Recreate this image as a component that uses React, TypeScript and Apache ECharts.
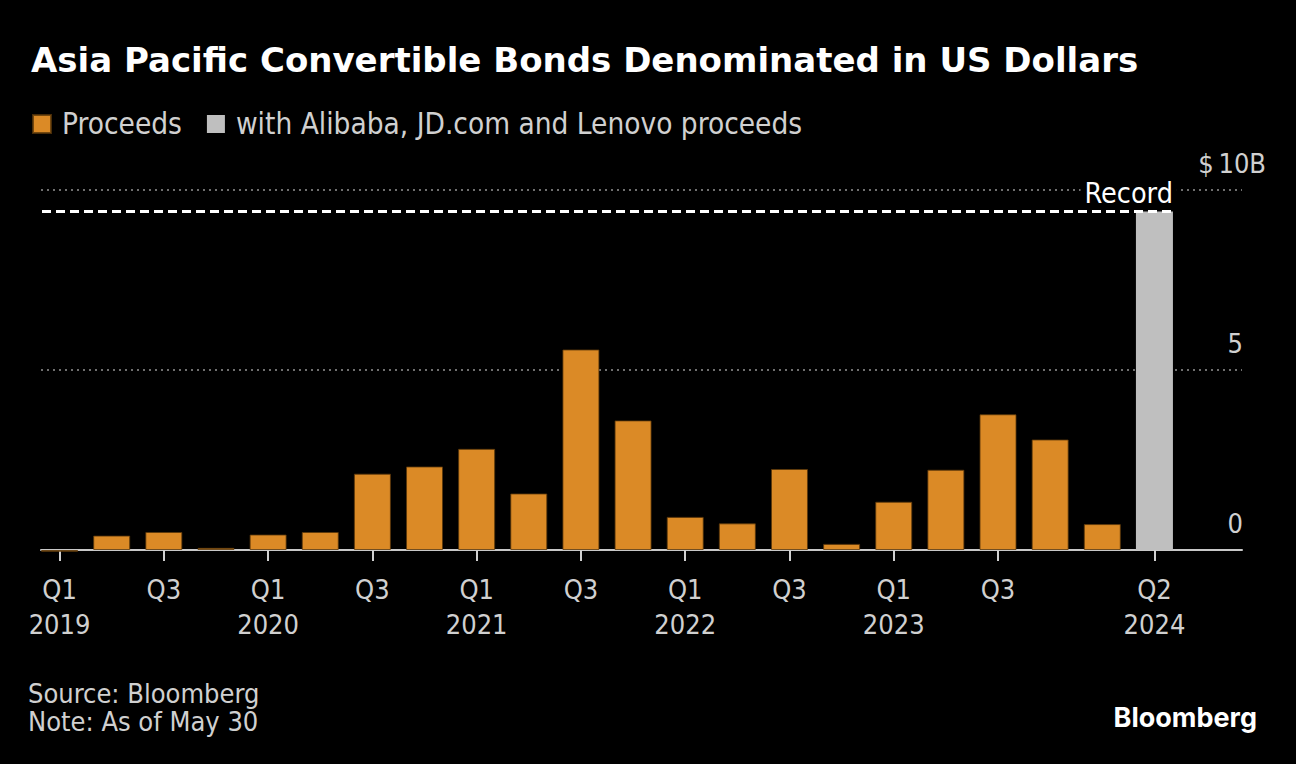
import React, { useEffect, useRef } from "react";
import * as echarts from "echarts";

const quarters = [
  "Q1 2019", "Q2 2019", "Q3 2019", "Q4 2019",
  "Q1 2020", "Q2 2020", "Q3 2020", "Q4 2020",
  "Q1 2021", "Q2 2021", "Q3 2021", "Q4 2021",
  "Q1 2022", "Q2 2022", "Q3 2022", "Q4 2022",
  "Q1 2023", "Q2 2023", "Q3 2023", "Q4 2023",
  "Q1 2024", "Q2 2024",
];
const proceeds: (number | string)[] = [
  -0.05, 0.4, 0.5, 0.06,
  0.43, 0.5, 2.12, 2.32,
  2.81, 1.57, 5.57, 3.6,
  0.92, 0.74, 2.25, 0.17,
  1.34, 2.23, 3.77, 3.07,
  0.72, "-",
];
const withMajors: (number | string)[] = [
  "-", "-", "-", "-", "-", "-", "-", "-", "-", "-", "-",
  "-", "-", "-", "-", "-", "-", "-", "-", "-", "-", 9.4,
];
const recordValue = 9.4;
const labeledIndexes = [0, 2, 4, 6, 8, 10, 12, 14, 16, 18, 21];
const yMin = 0;
const yMax = 10;
const yInterval = 5;

const seriesNames = ["Proceeds", "with Alibaba, JD.com and Lenovo proceeds"];
const TITLE = "Asia Pacific Convertible Bonds Denominated in US Dollars";
const SOURCE = "Source: Bloomberg\nNote: As of May 30";

const COND = "'DejaVu Sans Condensed', 'DejaVu Sans', sans-serif";
const ORANGE = "#db8a26";
const GRAY = "#bfbfbf";
const TEXT = "#d0d0d0";

export default function App() {
  const ref = useRef<HTMLDivElement>(null);
  useEffect(() => {
    if (!ref.current) return;
    const chart = echarts.init(ref.current, undefined, { renderer: "svg" });
    const gridTop = 190;
    const gridBottom = 764 - 550;
    const staticGraphics = [
      {
        type: "text",
        left: 28,
        top: 679,
        style: { text: SOURCE, fill: TEXT, fontSize: 27, lineHeight: 28, fontFamily: COND },
      },
      {
        type: "text",
        right: 1296 - 1257,
        top: 704,
        style: {
          text: "Bloomberg",
          fill: "#fff",
          fontSize: 27,
          fontWeight: "bold",
          fontFamily: "Inter, 'Open Sans', sans-serif",
        },
      },
    ];
    chart.setOption({
      animation: false,
      backgroundColor: "#000",
      title: {
        text: TITLE,
        left: 26,
        top: 38,
        textStyle: {
          color: "#fff",
          fontSize: 34,
          fontWeight: "bold",
          fontFamily: "'DejaVu Sans', sans-serif",
        },
      },
      legend: {
        data: seriesNames,
        left: 27,
        top: 104,
        icon: "rect",
        itemWidth: 18,
        itemHeight: 18,
        itemGap: 25,
        textStyle: { color: TEXT, fontSize: 29.5, fontFamily: COND, padding: [0, 0, 0, 6] },
      },
      grid: [
        { left: 33.5, right: 1296 - 1180.5, top: gridTop, bottom: gridBottom },
        { left: 41, right: 1296 - 1242, top: gridTop, bottom: gridBottom },
      ],
      xAxis: [
        {
          type: "category",
          gridIndex: 0,
          data: quarters,
          axisLine: { show: false },
          axisTick: {
            show: true,
            alignWithLabel: true,
            interval: (i: number) => labeledIndexes.includes(i),
            length: 11,
            lineStyle: { color: TEXT, width: 2 },
          },
          axisLabel: {
            interval: (i: number) => labeledIndexes.includes(i),
            color: TEXT,
            fontSize: 27,
            fontFamily: COND,
            lineHeight: 35,
            margin: 22,
            formatter: (v: string, i: number) => {
              const [q, y] = v.split(" ");
              return q === "Q1" || i === quarters.length - 1 ? `${q}\n${y}` : q;
            },
          },
        },
        {
          type: "value",
          gridIndex: 1,
          min: 0,
          max: 1,
          axisLine: { show: true, lineStyle: { color: "#c8c8c8", width: 2 } },
          axisTick: { show: false },
          axisLabel: { show: false },
          splitLine: { show: false },
        },
      ],
      yAxis: [
        {
          type: "value",
          gridIndex: 0,
          min: yMin,
          max: yMax,
          interval: yInterval,
          show: false,
        },
        {
          type: "value",
          gridIndex: 1,
          position: "right",
          min: yMin,
          max: yMax,
          interval: yInterval,
          axisLine: { show: false },
          axisTick: { show: false },
          splitLine: {
            show: true,
            lineStyle: { color: "#707070", width: 2, type: [2, 4] },
          },
          axisLabel: {
            inside: false,
            margin: 24,
            align: "right",
            verticalAlign: "bottom",
            padding: [0, 0, 13, 0],
            color: TEXT,
            fontSize: 27,
            fontFamily: COND,
            formatter: (v: number) => (v === yMax ? `$\u2009${v}B` : `${v}{pad| }`),
            rich: { pad: { width: 23, fontSize: 27 } },
          },
        },
      ],
      series: [
        {
          name: seriesNames[0],
          type: "bar",
          xAxisIndex: 0,
          yAxisIndex: 0,
          data: proceeds,
          barWidth: 37,
          barGap: "-100%",
          clip: false,
          itemStyle: { color: ORANGE, borderColor: "rgba(90,55,10,0.8)", borderWidth: 1 },
        },
        {
          name: seriesNames[1],
          type: "bar",
          xAxisIndex: 0,
          yAxisIndex: 0,
          data: withMajors,
          barWidth: 37,
          barGap: "-100%",
          clip: false,
          itemStyle: { color: GRAY },
        },
      ],
      graphic: staticGraphics,
    });

    const yPix = chart.convertToPixel({ yAxisIndex: 0 }, recordValue) as number;
    const xCenter = chart.convertToPixel({ xAxisIndex: 0 }, quarters[quarters.length - 1]) as number;
    const xEnd = xCenter + 18.5;
    chart.setOption({
      graphic: [
        ...staticGraphics,
        {
          type: "line",
          shape: { x1: 42, y1: yPix, x2: xEnd, y2: yPix },
          style: { stroke: "#fff", lineWidth: 3, lineDash: [9, 5] },
          z: 10,
        },
        {
          type: "text",
          x: xEnd + 4,
          y: yPix - 4,
          z: 10,
          style: {
            text: "Record",
            fill: "#fff",
            fontSize: 28.5,
            fontFamily: COND,
            align: "right",
            verticalAlign: "bottom",
            backgroundColor: "#000",
            padding: [0, 4, 0, 4],
          },
        },
      ],
    });

    return () => chart.dispose();
  }, []);
  return (
    <div
      ref={ref}
      style={{ position: "absolute", left: 0, top: 0, width: 1296, height: 764 }}
    />
  );
}
